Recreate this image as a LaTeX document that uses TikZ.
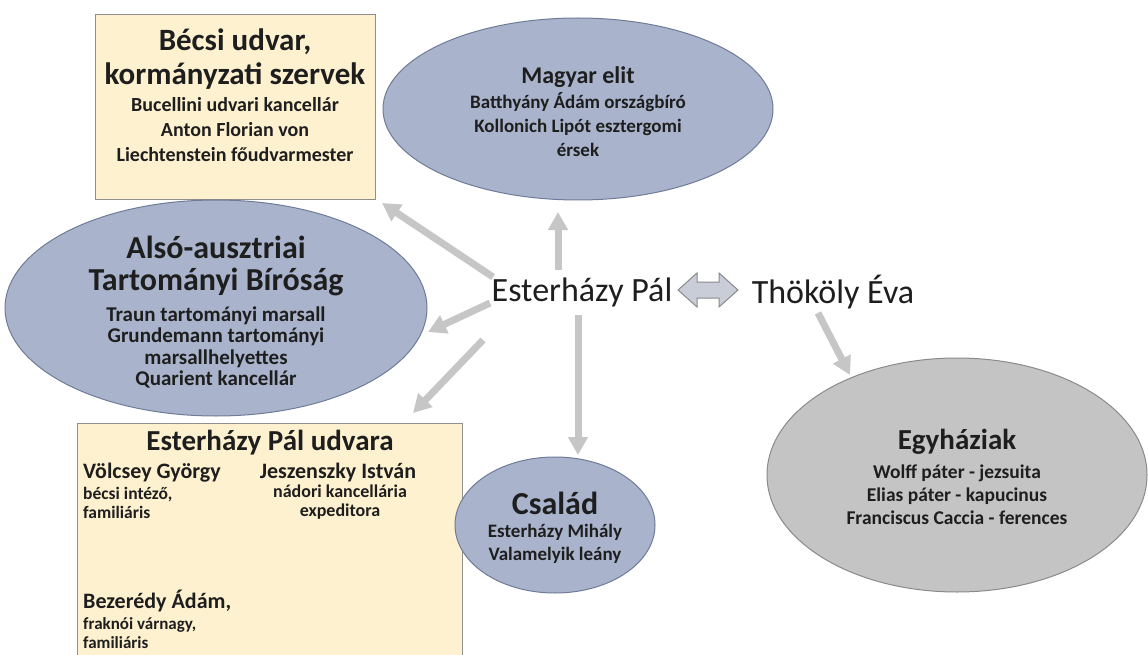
\documentclass[tikz,border=0pt]{standalone}
\usepackage{fontspec}
\setmainfont{Carlito}
\usetikzlibrary{arrows.meta,shapes.geometric}
\definecolor{boxfill}{HTML}{FEF1D0}
\definecolor{boxline}{HTML}{8F8F8F}
\definecolor{ellfill}{HTML}{A9B4CC}
\definecolor{ellline}{HTML}{6F7B97}
\definecolor{grayfill}{HTML}{C4C4C4}
\definecolor{grayline}{HTML}{8A8A8A}
\definecolor{arrowgray}{HTML}{C6C6C6}
\definecolor{dblfill}{HTML}{C8CDD8}
\definecolor{txt}{HTML}{1E1E1E}
\tikzset{
  beige/.style={draw=boxline, fill=boxfill, line width=1pt},
  blueell/.style={ellipse, draw=ellline, fill=ellfill, line width=1pt, inner sep=0pt},
  grayell/.style={ellipse, draw=grayline, fill=grayfill, line width=1pt, inner sep=0pt},
  conn/.style={draw=arrowgray, line width=7pt, -{Triangle[width=19pt,length=18pt]}},
  lbl/.style={text=txt, inner sep=0pt, align=center},
}
\newcommand{\fs}[2]{\fontsize{#1}{#2}\selectfont}
\begin{document}
\begin{tikzpicture}[x=1pt,y=-1pt]
\useasboundingbox (0,0) rectangle (1148,655);
\clip (0,0) rectangle (1148,655);
\fill[white] (0,0) rectangle (1148,655);

% boxes
\node[beige, minimum width=280pt, minimum height=185pt] (becsi) at (235,107.5) {};
\node[beige, minimum width=385pt, minimum height=260pt] (udvara) at (269.5,553) {};

% ellipses
\node[blueell, minimum width=390pt, minimum height=182pt] (magyar) at (578,109) {};
\node[blueell, minimum width=422pt, minimum height=216pt] (also) at (216,308) {};
\node[blueell, minimum width=200pt, minimum height=136pt] (csalad) at (555,525) {};
\node[grayell, minimum width=380pt, minimum height=234pt] (egyhaz) at (957,475) {};

% texts: Bécsi udvar
\node[lbl, font=\fs{31}{34}\bfseries] (becsiT) at (235,59) {Bécsi udvar,\\kormányzati szervek};
\node[lbl, font=\fs{20}{25}\bfseries] (becsiS) at (235,130) {Bucellini udvari kancellár\\Anton Florian von\\Liechtenstein főudvarmester};

% Magyar elit
\node[lbl, font=\fs{24}{24}\bfseries] (magyarT) at (578,77) {Magyar elit};
\node[lbl, font=\fs{19}{24}\bfseries] (magyarS) at (578,125) {Batthyány Ádám országbíró\\Kollonich Lipót esztergomi\\érsek};

% Alsó-ausztriai
\node[lbl, font=\fs{32}{32}\bfseries] (alsoT) at (216,266) {Alsó-ausztriai\\Tartományi Bíróság};
\node[lbl, font=\fs{21}{21.5}\bfseries] (alsoS) at (216,347.5) {Traun tartományi marsall\\Grundemann tartományi\\marsallhelyettes\\Quarient kancellár};

% Esterházy Pál udvara
\node[lbl, font=\fs{29}{30}\bfseries] (udvT) at (270,443) {Esterházy Pál udvara};
\node[lbl, anchor=west, font=\fs{22}{22}\bfseries] (volc) at (83,473) {Völcsey György};
\node[lbl, anchor=west, align=left, font=\fs{17.5}{19}\bfseries] (volcS) at (83,502.5) {bécsi intéző,\\familiáris};
\node[lbl, font=\fs{22}{22}\bfseries] (jesz) at (338,473) {Jeszenszky István};
\node[lbl, font=\fs{18}{19}\bfseries] (jeszS) at (340,502.5) {nádori kancellária\\expeditora};
\node[lbl, anchor=west, font=\fs{22}{22}\bfseries] (bez) at (83,601) {Bezerédy Ádám,};
\node[lbl, anchor=west, align=left, font=\fs{17}{19}\bfseries] (bezS) at (83,633) {fraknói várnagy,\\familiáris};

% Család
\node[lbl, font=\fs{32}{32}\bfseries] (csaladT) at (555,503) {Család};
\node[lbl, font=\fs{19}{23}\bfseries] (csaladS) at (555,543.5) {Esterházy Mihály\\Valamelyik leány};

% Egyháziak
\node[lbl, font=\fs{29}{30}\bfseries] (egyhazT) at (957,442) {Egyháziak};
\node[lbl, font=\fs{19.5}{23}\bfseries] (egyhazS) at (957,495) {Wolff páter - jezsuita\\Elias páter - kapucinus\\Franciscus Caccia - ferences};

% central labels
\node[lbl, font=\fs{34}{36}] (esz) at (582,292) {Esterházy Pál};
\node[lbl, font=\fs{34}{36}] (thok) at (833,292) {Thököly Éva};

% double arrow
\draw[draw=grayline, fill=dblfill, line width=1pt, line join=miter]
  (678,290) -- (697,273) -- (697,282) -- (719,282) -- (719,273) -- (738,290)
  -- (719,307) -- (719,298) -- (697,298) -- (697,307) -- cycle;

% connector endpoints
\coordinate (s1) at (493,277); \coordinate (e1) at (382,203);
\coordinate (s2) at (490,303); \coordinate (e2) at (428,332);
\coordinate (s3) at (483,340); \coordinate (e3) at (413,413);
\coordinate (s4) at (558,270); \coordinate (e4) at (558,212);
\coordinate (s5) at (578,315); \coordinate (e5) at (578,455);
\coordinate (s6) at (818,313); \coordinate (e6) at (850,375);

\draw[conn] (s1) -- (e1);
\draw[conn] (s2) -- (e2);
\draw[conn] (s3) -- (e3);
\draw[conn] (s4) -- (e4);
\draw[conn] (s5) -- (e5);
\draw[conn] (s6) -- (e6);
\end{tikzpicture}
\end{document}
